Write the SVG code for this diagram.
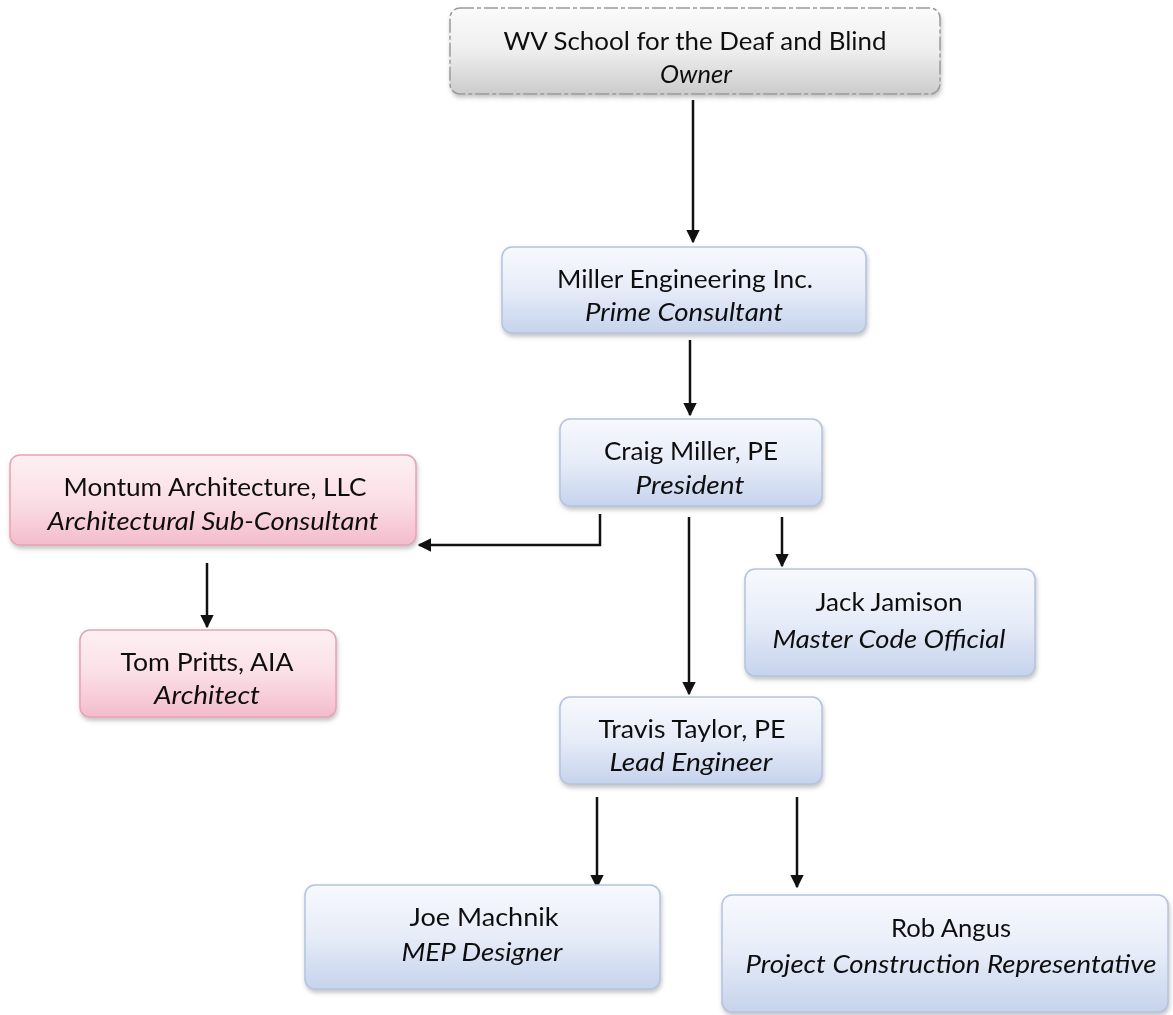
<svg xmlns="http://www.w3.org/2000/svg" width="1173" height="1015" viewBox="0 0 1173 1015">
<style>
.t{font-family:Lato,"Open Sans","Liberation Sans",Arial,sans-serif;font-size:25px;fill:#111;text-anchor:middle}
.i{font-style:italic}
.blue{fill:url(#gb);stroke:#b4c3df;stroke-width:1.5}
.pink{fill:url(#gp);stroke:#e8a3b3;stroke-width:1.5}
.grey{fill:url(#gg);stroke:#9a9a9a;stroke-width:1.5;stroke-dasharray:14 3 4 3}
.c{stroke:#111;stroke-width:2.5;fill:none}
</style>
<defs>
<linearGradient id="gb" x1="0" y1="0" x2="0" y2="1"><stop offset="0" stop-color="#f7f9fd"/><stop offset="0.5" stop-color="#e6ecf8"/><stop offset="1" stop-color="#c6d3ec"/></linearGradient>
<linearGradient id="gp" x1="0" y1="0" x2="0" y2="1"><stop offset="0" stop-color="#fdf0f3"/><stop offset="0.5" stop-color="#fbdfe6"/><stop offset="1" stop-color="#f3bccb"/></linearGradient>
<linearGradient id="gg" x1="0" y1="0" x2="0" y2="1"><stop offset="0" stop-color="#fbfbfb"/><stop offset="0.5" stop-color="#eeeeee"/><stop offset="1" stop-color="#cccccc"/></linearGradient>
<filter id="sh" x="-5%" y="-10%" width="110%" height="130%"><feDropShadow dx="1" dy="3" stdDeviation="2" flood-color="#888" flood-opacity="0.5"/></filter>
<marker id="ah" viewBox="0 0 10 10" refX="9" refY="5" markerWidth="5.5" markerHeight="5.5" orient="auto" markerUnits="strokeWidth"><path d="M0,0 L10,5 L0,10 z" fill="#111"/></marker>
</defs>
<rect width="1173" height="1015" fill="#fff"/>
<g id="connectors">
<path class="c" d="M693,100 V242" marker-end="url(#ah)"/>
<path class="c" d="M690,340 V415" marker-end="url(#ah)"/>
<path class="c" d="M600,514 V545 H419" marker-end="url(#ah)"/>
<path class="c" d="M689,517 V694" marker-end="url(#ah)"/>
<path class="c" d="M782,517 V566" marker-end="url(#ah)"/>
<path class="c" d="M207,563 V627" marker-end="url(#ah)"/>
<path class="c" d="M597,797 V887" marker-end="url(#ah)"/>
<path class="c" d="M797,797 V887" marker-end="url(#ah)"/>
</g>
<g id="owner" filter="url(#sh)">
<rect class="grey" x="450" y="8" width="490" height="86" rx="10"/>
<text class="t" x="695" y="50" textLength="383" lengthAdjust="spacingAndGlyphs">WV School for the Deaf and Blind</text>
<text class="t i" x="696" y="83" fill="#333" textLength="72" lengthAdjust="spacingAndGlyphs">Owner</text>
</g>
<g id="miller-engineering" filter="url(#sh)">
<rect class="blue" x="502" y="247" width="364" height="86" rx="10"/>
<text class="t" x="685" y="288" textLength="256" lengthAdjust="spacingAndGlyphs">Miller Engineering Inc.</text>
<text class="t i" x="684" y="321" textLength="198" lengthAdjust="spacingAndGlyphs">Prime Consultant</text>
</g>
<g id="craig-miller" filter="url(#sh)">
<rect class="blue" x="560" y="419" width="262" height="87" rx="10"/>
<text class="t" x="691" y="460" textLength="174" lengthAdjust="spacingAndGlyphs">Craig Miller, PE</text>
<text class="t i" x="690" y="494" textLength="109" lengthAdjust="spacingAndGlyphs">President</text>
</g>
<g id="montum" filter="url(#sh)">
<rect class="pink" x="10" y="455" width="406" height="90" rx="10"/>
<text class="t" x="215" y="496" textLength="303" lengthAdjust="spacingAndGlyphs">Montum Architecture, LLC</text>
<text class="t i" x="213" y="530" textLength="331" lengthAdjust="spacingAndGlyphs">Architectural Sub-Consultant</text>
</g>
<g id="tom-pritts" filter="url(#sh)">
<rect class="pink" x="80" y="630" width="256" height="87" rx="10"/>
<text class="t" x="207" y="671" textLength="173" lengthAdjust="spacingAndGlyphs">Tom Pritts, AIA</text>
<text class="t i" x="207" y="704" textLength="106" lengthAdjust="spacingAndGlyphs">Architect</text>
</g>
<g id="jack-jamison" filter="url(#sh)">
<rect class="blue" x="745" y="569" width="290" height="107" rx="10"/>
<text class="t" x="889" y="611" textLength="147" lengthAdjust="spacingAndGlyphs">Jack Jamison</text>
<text class="t i" x="889" y="648" textLength="233" lengthAdjust="spacingAndGlyphs">Master Code Official</text>
</g>
<g id="travis-taylor" filter="url(#sh)">
<rect class="blue" x="560" y="697" width="262" height="87" rx="10"/>
<text class="t" x="692" y="738" textLength="187" lengthAdjust="spacingAndGlyphs">Travis Taylor, PE</text>
<text class="t i" x="691" y="771" textLength="163" lengthAdjust="spacingAndGlyphs">Lead Engineer</text>
</g>
<g id="joe-machnik" filter="url(#sh)">
<rect class="blue" x="305" y="885" width="355" height="104" rx="10"/>
<text class="t" x="484" y="926" textLength="149" lengthAdjust="spacingAndGlyphs">Joe Machnik</text>
<text class="t i" x="482" y="961" textLength="161" lengthAdjust="spacingAndGlyphs">MEP Designer</text>
</g>
<g id="rob-angus" filter="url(#sh)">
<rect class="blue" x="722" y="895" width="446" height="117" rx="10"/>
<text class="t" x="951" y="937" textLength="120" lengthAdjust="spacingAndGlyphs">Rob Angus</text>
<text class="t i" x="951" y="973" textLength="411" lengthAdjust="spacingAndGlyphs">Project Construction Representative</text>
</g>
</svg>
